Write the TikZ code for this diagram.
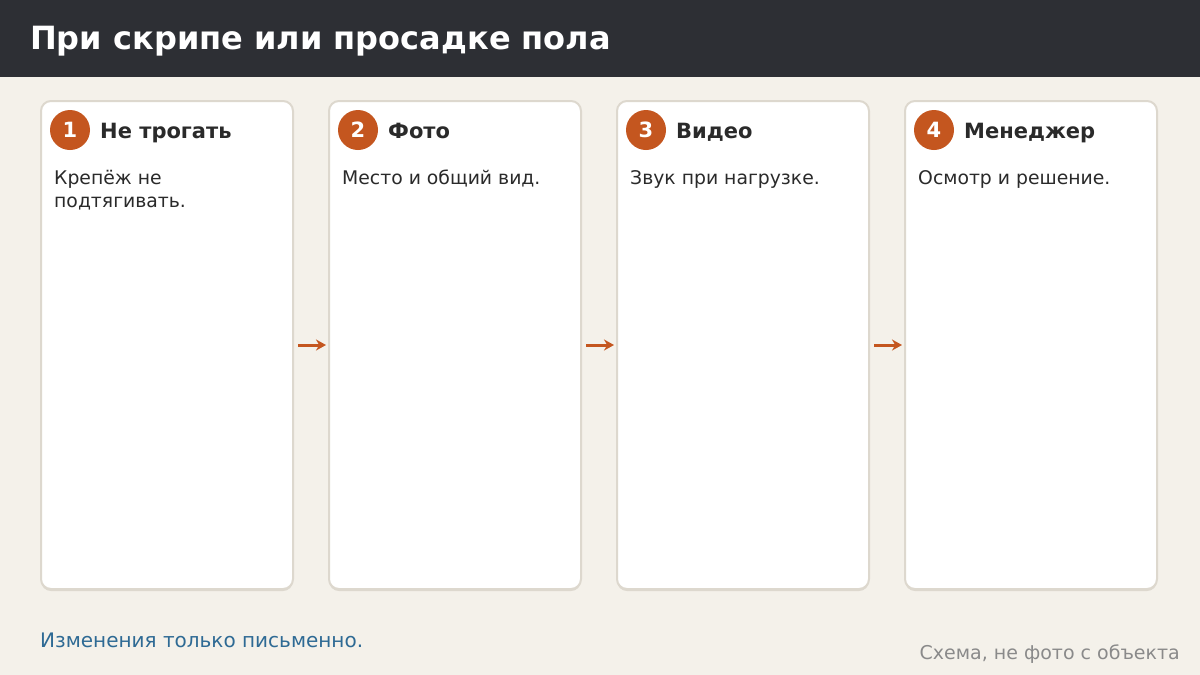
\documentclass[tikz,border=0pt]{standalone}
\usepackage{fontspec}
\setmainfont{DejaVu Sans}
\usetikzlibrary{arrows.meta}
\definecolor{bg}{HTML}{F4F1EA}
\definecolor{hdr}{HTML}{2D2F34}
\definecolor{cardline}{HTML}{DDD8CE}
\definecolor{acc}{HTML}{C4561F}
\definecolor{ink}{HTML}{2A2A2A}
\definecolor{note}{HTML}{2E6A94}
\definecolor{gray1}{HTML}{8A8A8A}
\tikzset{
  card/.style={draw=cardline, line width=2pt, fill=white, rounded corners=10pt},
  num/.style={circle, fill=acc, minimum size=40pt, inner sep=0pt, text=white, font=\fontsize{21}{24}\selectfont\bfseries},
  ctitle/.style={anchor=base west, inner sep=0pt, text=ink, font=\fontsize{21}{25}\selectfont\bfseries},
  cbody/.style={anchor=base west, inner sep=0pt, text=ink, font=\fontsize{18.8}{23}\selectfont, align=left},
  flow/.style={draw=acc, line width=3pt, -{Stealth[length=10pt,width=11pt]}}
}
\begin{document}
\begin{tikzpicture}[x=1pt,y=-1pt]
\useasboundingbox (0,0) rectangle (1200,675);
\fill[bg] (0,0) rectangle (1200,675);
\fill[hdr] (0,0) rectangle (1200,77);
\node[anchor=base west, inner sep=0pt, text=white, font=\fontsize{32}{38}\selectfont\bfseries] (title) at (30,49) {При скрипе или просадке пола};
% cards
\foreach \i/\x/\t/\b/\by in {1/41/Не трогать/{Крепёж не\\подтягивать.}/207,2/329/Фото/{Место и общий вид.}/184,3/617/Видео/{Звук при нагрузке.}/184,4/905/Менеджер/{Осмотр и решение.}/184}{
  \fill[cardline] (\x,103) [rounded corners=10pt] rectangle (\x+252,591);
  \draw[card] (\x,101) rectangle (\x+252,589);
  \coordinate (c\i w) at (\x,345);
  \coordinate (c\i e) at (\x+252,345);
  \node[num] (n\i) at (\x+29,130) {\i};
  \node[ctitle] (t\i) at (\x+59,138) {\t};
  \node[cbody] (b\i) at (\x+13,\by) {\b};
}
\draw[flow] ([xshift=5pt]c1e) -- ([xshift=-3pt]c2w);
\draw[flow] ([xshift=5pt]c2e) -- ([xshift=-3pt]c3w);
\draw[flow] ([xshift=5pt]c3e) -- ([xshift=-3pt]c4w);
\node[anchor=base west, inner sep=0pt, text=note, font=\fontsize{20}{24}\selectfont] (foot) at (40,647) {Изменения только письменно.};
\node[anchor=base east, inner sep=0pt, text=gray1, font=\fontsize{19}{22}\selectfont] (src) at (1180,659) {Схема, не фото с объекта};
\end{tikzpicture}
\end{document}
